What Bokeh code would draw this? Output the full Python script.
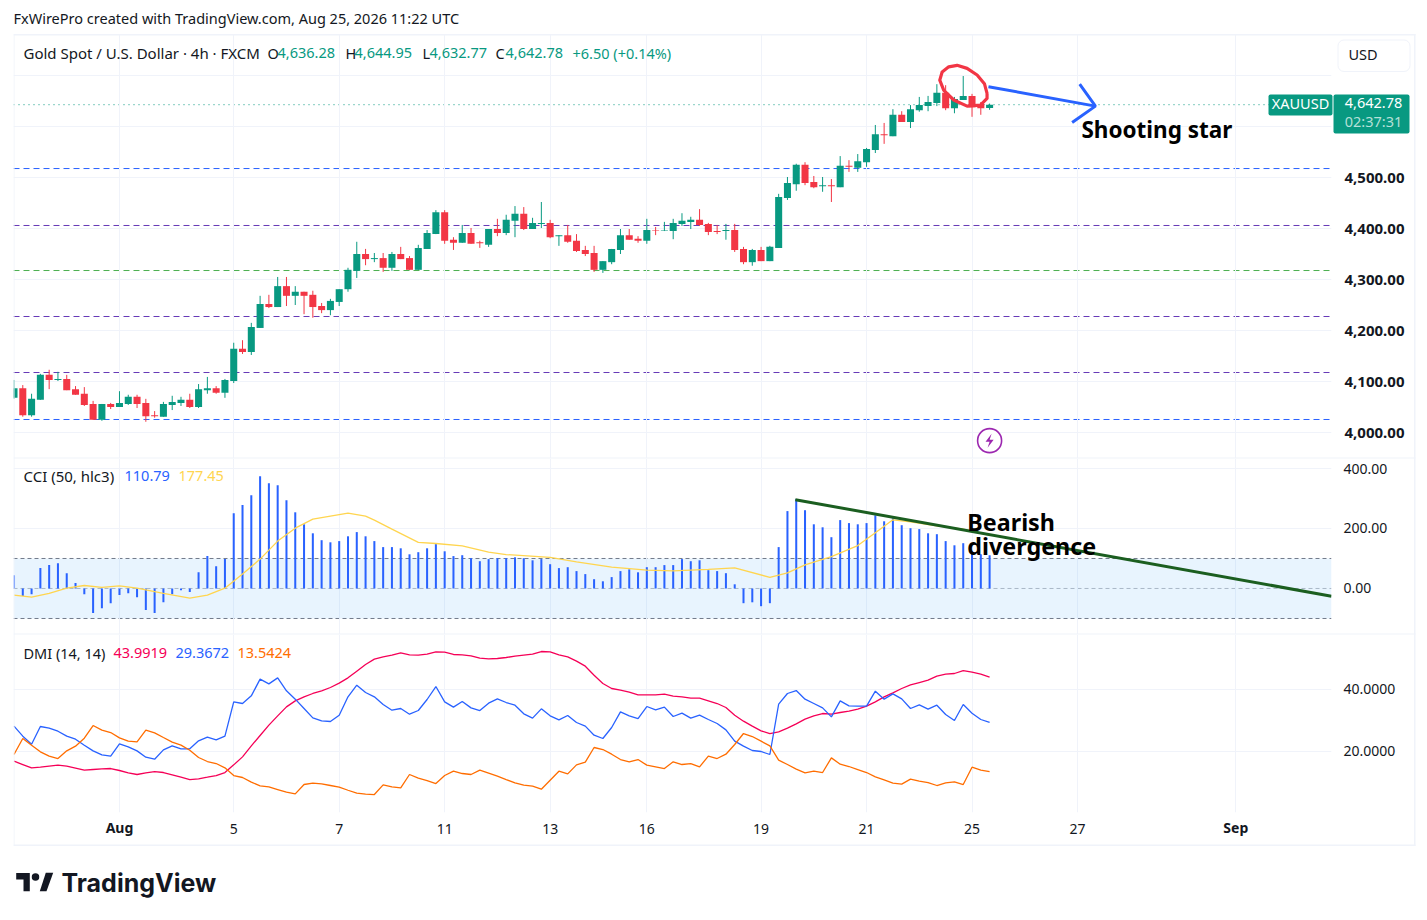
from bokeh.plotting import figure
from bokeh.layouts import column
from bokeh.embed import file_html
from bokeh.resources import INLINE
from bokeh.core.properties import value
from bokeh.models import (Range1d, FixedTicker, LinearAxis, Grid, BoxAnnotation,
                          ColumnDataSource, NumeralTickFormatter)

FONT = "Noto Sans"
INK = "#131722"
UP = "#089981"
DOWN = "#F23645"
RULE = "#F0F3FA"

# ---- candles: 4h bars, index 0..111
opens = [4068,4087,4034,4064,4113,4103,4105,4085,4076,4056,4025,4056,4050,4056,4070,4058,4034,4031,4054,4058,
         4064,4050,4083,4087,4078,4101,4164,4158,4205,4252,4246,4287,4268,4276,4270,4248,4240,4256,4281,4317,
         4350,4340,4342,4323,4350,4342,4319,4360,4389,4432,4378,4372,4391,4373,4368,4399,4391,4415,4429,4399,
         4409,4411,4385,4387,4376,4358,4352,4319,4334,4358,4387,4380,4376,4397,4396,4395,4409,4413,4417,4409,
         4395,4395,4397,4360,4334,4358,4336,4362,4460,4487,4525,4491,4483,4485,4481,4523,4519,4530,4554,4585,
         4581,4623,4609,4632,4640,4646,4666,4636,4652,4660,4644,4636.28]
highs = [4103,4093,4076,4115,4123,4119,4113,4091,4089,4062,4056,4058,4081,4074,4074,4066,4042,4060,4072,4070,
         4076,4095,4109,4091,4105,4176,4181,4215,4268,4270,4305,4305,4287,4276,4278,4254,4262,4281,4323,4374,
         4360,4352,4352,4354,4364,4346,4368,4397,4436,4436,4383,4407,4401,4376,4399,4419,4427,4444,4442,4421,
         4452,4417,4387,4407,4389,4366,4366,4336,4360,4399,4399,4385,4419,4403,4413,4419,4430,4423,4438,4411,
         4407,4409,4409,4364,4360,4364,4366,4468,4501,4527,4530,4503,4501,4497,4542,4534,4546,4558,4603,4607,
         4634,4630,4642,4658,4660,4683,4681,4658,4699,4664,4648,4644.95]
lows = [4066,4031,4031,4064,4085,4101,4083,4074,4052,4025,4023,4046,4050,4054,4048,4021,4029,4031,4044,4052,
        4048,4048,4076,4076,4068,4097,4154,4152,4205,4244,4246,4248,4250,4232,4225,4234,4230,4248,4276,4303,
        4328,4334,4315,4317,4340,4319,4319,4360,4389,4370,4358,4372,4370,4362,4364,4385,4387,4383,4397,4399,
        4401,4381,4366,4372,4354,4346,4315,4313,4330,4350,4378,4372,4370,4387,4395,4379,4405,4399,4405,4387,
        4389,4378,4354,4330,4327,4336,4336,4362,4456,4474,4485,4479,4472,4452,4481,4511,4511,4521,4548,4566,
        4581,4609,4597,4629,4630,4640,4632,4626,4652,4619,4623,4632.77]
closes = [4087,4034,4066,4113,4103,4105,4083,4074,4054,4025,4056,4050,4058,4070,4056,4032,4032,4056,4060,4064,
          4050,4085,4087,4078,4103,4164,4158,4207,4252,4246,4287,4268,4276,4268,4246,4240,4258,4281,4319,4350,
          4340,4342,4323,4350,4340,4319,4362,4391,4432,4376,4372,4391,4370,4371,4399,4391,4417,4429,4399,4411,
          4411,4383,4387,4374,4356,4350,4319,4336,4360,4387,4378,4376,4397,4396,4397,4411,4415,4417,4407,4393,
          4393,4397,4358,4334,4358,4336,4364,4462,4489,4525,4489,4481,4485,4483,4523,4521,4532,4556,4585,4583,
          4623,4609,4634,4642,4648,4666,4636,4654,4660,4638,4636,4642.78]

# ---- CCI (50, hlc3)
cci = [44,-25,-19,68,78,84,51,18,-19,-82,-66,-49,-22,-16,-29,-72,-82,-46,-19,-6,
       -12,54,108,74,98,251,278,311,374,351,344,294,254,214,184,161,154,158,174,188,
       174,158,138,138,134,114,121,134,148,124,108,111,101,91,98,101,101,104,101,94,
       98,81,68,71,58,48,31,24,38,58,64,54,71,71,78,78,98,91,94,61,
       58,51,14,-49,-46,-59,-49,138,258,298,261,214,204,171,228,218,214,218,244,224,
       234,211,201,198,184,181,158,144,151,124,114,110.79]
cci_ma_bars = [0,2,4,6,8,10,12,14,17,20,22,24,26,28,30,32,34,36,38,40,41,43,46,48,51,54,56,61,64,68,72,75,79,82,86,88,90,93,96,98,100,102,105,108,111]
cci_ma = [-22,-29,-16,1,10,4,9,1,-16,-32,-22,1,48,98,158,201,231,241,251,241,228,198,154,150,142,121,113,104,89,71,61,59,64,69,37,52,79,106,143,186,229,222,209,198,177.45]

# ---- DMI (14, 14)
adx = [16.88,15.80,14.73,14.94,15.26,15.59,15.26,14.62,13.97,14.19,14.40,14.51,13.87,13.11,12.58,13.11,13.54,13.22,12.47,11.71,
       10.96,11.18,11.71,12.25,13.22,15.69,18.27,21.82,25.16,28.49,31.50,34.40,36.34,37.63,38.71,39.57,40.64,42.04,43.76,45.91,
       48.06,49.78,50.53,51.07,51.82,51.18,51.07,51.39,52.15,52.04,51.29,51.18,50.86,50.10,49.89,50.00,50.32,50.75,51.07,51.39,
       52.25,52.15,51.18,50.53,49.14,47.52,44.62,41.93,40.32,39.78,39.14,38.28,38.28,38.28,38.49,37.84,37.63,37.20,37.20,36.34,
       35.48,34.19,31.72,29.78,28.17,26.66,25.80,26.34,27.52,28.92,30.43,31.50,32.25,32.04,32.58,33.01,33.65,34.62,36.02,37.63,
       38.92,40.32,41.50,42.25,43.01,44.30,44.94,45.16,46.12,45.59,44.94,43.9919]
di_plus = [28.17,24.94,22.36,28.06,27.52,26.55,24.94,23.97,22.04,20.21,18.92,18.49,22.47,21.50,20.21,18.17,17.52,20.53,21.82,20.86,
           20.86,23.44,24.62,23.76,24.94,36.02,35.48,37.95,43.33,41.82,43.76,39.57,36.88,33.87,30.86,29.89,29.67,31.72,37.63,41.39,
           39.03,37.63,35.16,33.33,33.87,32.04,33.22,36.77,40.96,36.02,34.30,36.12,34.08,33.22,35.59,36.98,35.80,34.94,32.15,30.75,
           33.76,31.50,30.21,31.61,29.35,28.17,25.26,24.19,27.74,32.79,31.50,30.64,34.51,33.44,34.30,31.29,32.36,30.75,31.72,30.32,
           29.03,26.98,23.33,21.72,20.32,20.00,19.03,35.26,38.71,39.67,36.88,35.48,34.08,31.18,36.34,34.73,34.62,34.62,39.46,36.88,
           38.60,36.98,33.87,35.05,33.65,34.94,31.93,30.00,35.16,32.36,30.32,29.3672]
di_minus = [19.03,24.19,22.04,19.89,18.49,17.74,20.21,21.72,24.30,28.38,26.88,26.12,24.40,23.33,23.11,26.88,26.02,24.51,23.01,22.04,
            20.42,18.06,16.77,16.12,14.73,12.25,11.61,10.10,8.92,8.60,7.74,6.88,6.34,9.35,9.78,9.56,9.03,8.49,7.50,6.55,
            6.23,6.12,9.24,8.60,8.27,12.58,11.39,10.64,9.67,12.25,13.65,12.90,12.58,13.97,13.01,12.04,10.96,9.89,9.13,8.81,
            7.84,10.75,13.65,12.79,15.69,16.55,21.29,20.64,19.13,17.41,16.66,17.41,15.59,15.05,14.51,16.66,15.80,16.12,15.05,18.49,
            17.74,19.13,22.25,25.80,24.83,23.33,21.82,17.20,15.80,14.30,13.11,13.65,13.22,17.95,15.91,15.16,14.19,13.22,11.82,10.85,
            9.78,9.46,11.07,10.42,9.99,9.03,9.89,10.21,9.35,14.94,13.97,13.5424]

# ---- axes
date_ticks = [12,25,37,49,61,72,85,97,109,121,139]
date_labels = {12:"",25:"5",37:"7",49:"11",61:"13",72:"16",85:"19",97:"21",109:"25",121:"27",139:""}
month_ticks = [12,139]
month_names = ["Aug","Sep"]
price_ticks = [4000,4100,4200,4300,4400,4500]
price_grid = [4000,4100,4200,4300,4400,4500,4600,4700]
cci_ticks = [0,200,400]
dmi_ticks = [20,40]

# ---- drawings
levels = [4517.6,4405.9,4317.6,4227.45,4117.65,4025.5]
level_colors = ["#2962FF","#673AB7","#4CAF50","#673AB7","#673AB7","#2962FF"]
last_price = 4642.78
circle_bar = [110.71,110.41,109.58,108.44,107.30,106.35,105.60,105.33,105.79,106.92,108.44,109.96,110.71,110.71]
circle_px = [4665,4684,4701,4714,4720,4717,4707,4691,4671,4652,4640,4642,4655,4665]
arrow_bar = [110.87,123.04]
arrow_px = [4678,4640]
head_bar = [121.25,123.04,120.39]
head_px = [4683,4640,4608]
bolt_bar = [111.23,110.54,111,110.77,111.46,111]
bolt_px = [3997.7,3982,3982,3970.3,3986,3986]
trend_bar = [88.9,149.9]
trend_cci = [296,-25.7]
cci_bands = [100,0,-100]
cci_band_alpha = [1,0.5,1]

bars = list(range(len(closes)))
XMIN, XMAX = -0.057, 149.9
x_range = Range1d(XMIN, XMAX)
BAR_PX = 8.79


def base(height, bottom=0, y=None):
    p = figure(width=1411, height=height, x_range=x_range, y_range=y, x_axis_location=None,
               y_axis_location=None, toolbar_location=None, output_backend="svg",
               min_border_left=5, min_border_right=88, min_border_top=0, min_border_bottom=bottom,
               background_fill_color="white", border_fill_color="white", outline_line_color=None)
    p.grid.visible = False
    p.add_layout(Grid(dimension=0, ticker=FixedTicker(ticks=date_ticks), grid_line_color=RULE, grid_line_width=1))
    return p


def yaxis(p, ticks, grid, fmt, bold=False):
    p.add_layout(Grid(dimension=1, ticker=FixedTicker(ticks=grid), grid_line_color=RULE, grid_line_width=1))
    ax = LinearAxis(ticker=FixedTicker(ticks=ticks), formatter=NumeralTickFormatter(format=fmt),
                    major_tick_line_color=None, minor_tick_line_color=None, axis_line_color=None,
                    major_label_standoff=7 if bold else 6, major_label_text_color=INK,
                    major_label_text_font=FONT, major_label_text_font_size="15px" if bold else "14px",
                    major_label_text_font_style="bold" if bold else "normal")
    p.add_layout(ax, "right")
    return ax


# ---- price pane
price = base(424, y=Range1d(3949.02, 4780.42))
yaxis(price, price_ticks, price_grid, "0,0.00", bold=True)
price.segment([XMIN] * len(levels), levels, [XMAX] * len(levels), levels, line_color=level_colors, line_width=1,
              line_dash="6 4", level="underlay")
price.segment([XMIN], [last_price], [XMAX], [last_price], line_color=UP, line_width=1, line_dash="1 4", level="underlay")
candles = ColumnDataSource(dict(x=bars, o=opens, h=highs, l=lows, c=closes,
                                col=[UP if c >= o else DOWN for o, c in zip(opens, closes)]))
price.segment("x", "h", "x", "l", source=candles, line_color="col", line_width=1)
price.vbar("x", 0.8, "o", "c", source=candles, fill_color="col", line_color=None)
price.line(circle_bar, circle_px, line_color=DOWN, line_width=3.2, line_join="round")
price.line(arrow_bar, arrow_px, line_color="#2962FF", line_width=3)
price.line(head_bar, head_px, line_color="#2962FF", line_width=3)
price.text([121.45], [4595], text=["Shooting star"], text_font=value(FONT), text_font_size="22.5px",
           text_font_style="bold", text_color="#000000", text_baseline="middle")
price.scatter([111], [3984], size=24, marker="circle", fill_color="white", line_color="#9C27B0", line_width=1.6)
price.patch(bolt_bar, bolt_px, fill_color="#9C27B0", line_color=None)

# ---- CCI pane
pcci = base(176, y=Range1d(-153.34, 433.33))
yaxis(pcci, cci_ticks, [200, 400], "0.00")
pcci.add_layout(BoxAnnotation(top=100, bottom=-100, fill_color="#2196F3", fill_alpha=0.1, line_alpha=0, level="underlay"))
pcci.segment([XMIN] * 3, cci_bands, [XMAX] * 3, cci_bands, line_color="#787B86", line_width=1, line_dash="4 3",
             line_alpha=cci_band_alpha, level="underlay")
pcci.vbar(bars, 0.23, 0, cci, fill_color="#2962FF", line_color=None)
pcci.line(cci_ma_bars, cci_ma, line_color="#FFD54F", line_width=1.3)
pcci.line(trend_bar, trend_cci, line_color="#1B5E20", line_width=3)
pcci.text([108.47, 108.47], [221, 141], text=["Bearish", "divergence"], text_font=value(FONT), text_font_size="23.3px",
          text_font_style="bold", text_color="#000000", text_baseline="middle")

# ---- DMI pane
pdmi = base(212, bottom=34, y=Range1d(0.323, 57.74))
yaxis(pdmi, dmi_ticks, dmi_ticks, "0.0000")
xax = LinearAxis(ticker=FixedTicker(ticks=date_ticks), major_label_overrides=date_labels,
                 major_tick_line_color=None, minor_tick_line_color=None, axis_line_color=None,
                 major_label_standoff=5, major_label_text_color=INK, major_label_text_font=FONT,
                 major_label_text_font_size="14px")
pdmi.add_layout(xax, "below")
pdmi.line(bars, adx, line_color="#F50057", line_width=1.3)
pdmi.line(bars, di_plus, line_color="#2962FF", line_width=1.3)
pdmi.line(bars, di_minus, line_color="#FF6D00", line_width=1.3)

# ---- header and footer space
head = figure(width=1411, height=26, toolbar_location=None, output_backend="svg", x_axis_location=None, y_axis_location=None,
              min_border=0, outline_line_color=None)
head.grid.visible = False
foot = figure(width=1411, height=66, toolbar_location=None, output_backend="svg", x_axis_location=None, y_axis_location=None,
              min_border=0, outline_line_color=None)
foot.grid.visible = False

# ---- transparent sheet over everything, in page pixels: legends, boxes, borders, logo
ov = figure(width=1411, height=904, x_range=Range1d(13, 1419), y_range=Range1d(912, 8), x_axis_location=None,
            y_axis_location=None, toolbar_location=None, output_backend="svg", min_border_left=5, min_border_right=0,
            min_border_top=0, min_border_bottom=0, outline_line_color=None, background_fill_alpha=0, border_fill_alpha=0,
            styles={"position": "absolute", "left": "0px", "top": "0px"})
ov.grid.visible = False


def txt(x, y, s, color=INK, size="14.5px", style="normal", align="left", font=FONT):
    ov.text([x], [y - 2], text=[s], text_color=color, text_font=value(font), text_font_size=size, text_font_style=style,
            text_align=align, text_baseline="middle")


def box(x0, x1, y0, y1, fill=RULE, line=None, radius=0):
    ov.quad(left=[x0], right=[x1], top=[y0], bottom=[y1], fill_color=fill, line_color=line, border_radius=radius)


txt(13, 19, "FxWirePro created with TradingView.com, Aug 25, 2026 11:22 UTC")
box(13, 14, 33.5, 845.5)
box(13, 1415, 33.5, 35)
box(1413.5, 1415, 33.5, 845.5)
box(13, 1415, 457, 458)
box(13, 1415, 633, 634)
box(13, 1415, 844, 845.5)
box(1337.5, 1409.5, 39.5, 71, fill="white", line=RULE, radius=6)
box(1268, 1332, 94, 115, fill=UP, radius=2)
box(1333, 1409, 94, 133, fill=UP, radius=2)
txt(1348, 55, "USD")
txt(1300, 104.5, "XAUUSD", color="white", align="center")
txt(1373, 104, "4,642.78", color="white", align="center")
txt(1373, 122, "02:37:31", color="#B5E0D8", align="center")
txt(23, 54, "Gold Spot / U.S. Dollar · 4h · FXCM", size="15px")
for x, s, c in [(267, "O", INK), (277, "4,636.28", UP), (345, "H", INK), (354, "4,644.95", UP), (422, "L", INK),
                (429, "4,632.77", UP), (495, "C", INK), (505, "4,642.78", UP), (572, "+6.50 (+0.14%)", UP)]:
    txt(x, 54, s, color=c)
txt(23, 477, "CCI (50, hlc3)", size="15px")
txt(124, 477, "110.79", color="#2962FF")
txt(178, 477, "177.45", color="#FFD54F")
txt(23, 654, "DMI (14, 14)")
txt(113, 654, "43.9919", color="#F50057")
txt(175, 654, "29.3672", color="#2962FF")
txt(237, 654, "13.5424", color="#FF6D00")
for bar, name in zip(month_ticks, month_names):
    txt(13.5 + BAR_PX * bar, 829, name, style="bold", size="14px", align="center")
LOGO = "#131722"
ov.patch([15.7, 29.3, 29.3, 23, 23, 15.7], [872.5, 872.5, 890.7, 890.7, 879, 879], fill_color=LOGO, line_color=None)
ov.scatter([35], [876.5], size=7.5, marker="circle", fill_color=LOGO, line_color=None)
ov.patch([39.3, 46, 52.7, 45.3], [890.7, 890.7, 872.3, 872.3], fill_color=LOGO, line_color=None)
txt(61, 884.5, "TradingView", size="25px", style="bold", font="Inter")

panes = column(head, price, pcci, pdmi, foot, spacing=0)
page = column(panes, ov, spacing=0, margin=(8, 0, 0, 8))
open("out.html", "w").write(file_html(page, INLINE))
